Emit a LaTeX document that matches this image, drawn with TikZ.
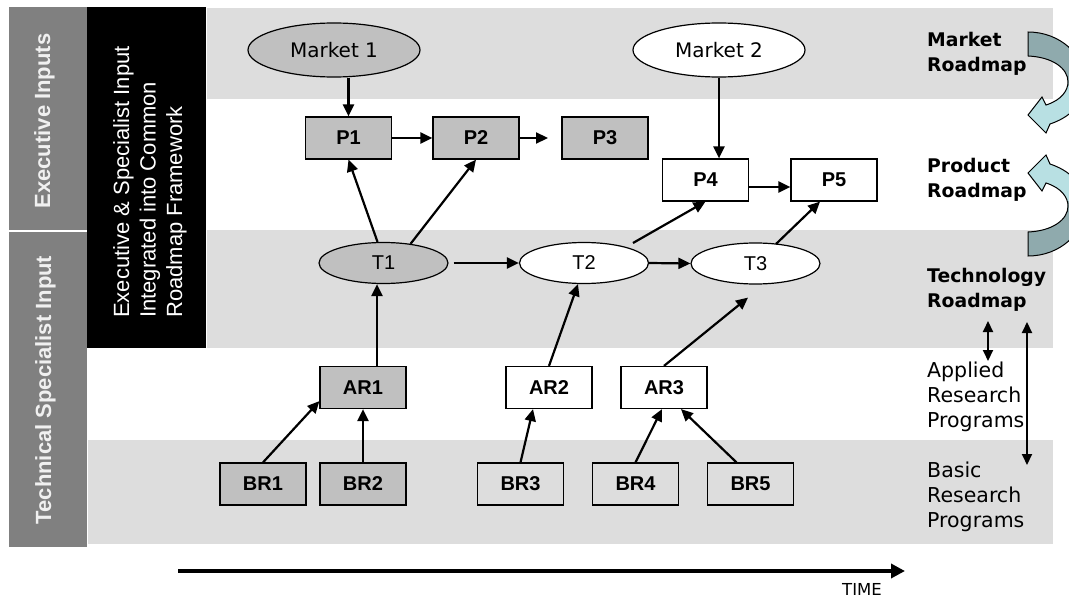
\documentclass[tikz,border=0pt]{standalone}
\usepackage{fontspec}
\setmainfont{Liberation Sans}
\newfontfamily\dvfont{DejaVu Sans}
\usetikzlibrary{arrows.meta,shapes.geometric,calc}
\definecolor{band}{HTML}{DDDDDD}
\definecolor{ngray}{HTML}{C0C0C0}
\definecolor{colgray}{HTML}{808080}
\definecolor{darkteal}{HTML}{8FAAAD}
\definecolor{lightteal}{HTML}{B8E0E3}
\definecolor{labtext}{HTML}{F0F0F0}
\newcommand\curvA[1]{\path[#1] (1028,32) .. controls (1060,32) and (1085,55) .. (1085,82) .. controls (1085,105) and (1068,118) .. (1050,124) -- (1046,133) -- (1028,115) -- (1042,97) -- (1046,105) .. controls (1062,100) and (1068,90) .. (1068,82) .. controls (1068,68) and (1052,57) .. (1028,56) -- cycle;}
\newcommand\curvB[1]{\path[#1] (1028,256) .. controls (1060,256) and (1085,233) .. (1085,206) .. controls (1085,183) and (1068,170) .. (1050,164) -- (1046,155) -- (1028,173) -- (1042,191) -- (1046,183) .. controls (1062,188) and (1068,198) .. (1068,206) .. controls (1068,220) and (1052,231) .. (1028,232) -- cycle;}
\begin{document}
\begin{tikzpicture}[x=1pt,y=-1pt,
  box/.style={draw, line width=1.2pt, rectangle, minimum width=86pt, minimum height=42pt, inner sep=0pt, font=\fontsize{20}{24}\selectfont\bfseries},
  tnode/.style={draw, line width=1.2pt, ellipse, minimum width=129pt, minimum height=41pt, inner sep=0pt, font=\fontsize{20}{24}\selectfont},
  mnode/.style={draw, line width=1.2pt, ellipse, minimum width=172pt, minimum height=54pt, inner sep=0pt, font=\dvfont\fontsize{20}{24}\selectfont},
  gfill/.style={fill=ngray},
  wfill/.style={fill=white},
  arr/.style={line width=2.2pt, -{Triangle[length=12pt,width=11pt]}},
  darr/.style={line width=2pt, {Triangle[length=11pt,width=10pt]}-{Triangle[length=11pt,width=10pt]}},
  rlab/.style={anchor=north west, align=left, inner sep=0pt, font=\dvfont\fontsize{20.5}{25}\selectfont},
  rlabb/.style={anchor=north west, align=left, inner sep=0pt, font=\dvfont\fontsize{18.8}{25}\selectfont\bfseries},
  sidelab/.style={rotate=90, anchor=base, text=labtext, font=\fontsize{22}{26}\selectfont\bfseries}
]
\useasboundingbox (0,0) rectangle (1069,599);
\fill[white] (0,0) rectangle (1069,599);
% bands
\fill[band] (207,8) rectangle (1053,99);
\fill[band] (207,230) rectangle (1053,348);
\fill[band] (88,440) rectangle (1053,544);
% left column
\fill[colgray] (9,7) rectangle (87,230);
\fill[colgray] (9,232) rectangle (87,547);
\fill[black] (87,7) rectangle (206,348);
\node[sidelab] (exlab) at (50,121) {Executive Inputs};
\node[sidelab] (tslab) at (51,390) {Technical Specialist Input};
\node[rotate=90, anchor=north west, align=left, inner sep=0pt, text=white, font=\fontsize{22}{26.5}\selectfont] (bbtext) at (113,318) {Executive \& Specialist Input\\Integrated into Common\\Roadmap Framework};

% curved block arrows
\begin{scope}
  \clip (0,0) rectangle (1069,599);
  \curvA{fill=lightteal}
  \begin{scope}
    \clip (1000,0) rectangle (1100,86);
    \curvA{fill=darkteal}
  \end{scope}
  \curvA{draw=black, line width=1pt}
  \curvB{fill=lightteal}
  \begin{scope}
    \clip (1000,202) rectangle (1100,300);
    \curvB{fill=darkteal}
  \end{scope}
  \curvB{draw=black, line width=1pt}
\end{scope}

% right labels
\node[rlabb] (lbM) at (927,32) {Market\\Roadmap};
\node[rlabb] (lbP) at (927,158) {Product\\Roadmap};
\node[rlabb] (lbT) at (927,268) {Technology\\Roadmap};
\node[rlab] (lbA) at (927,362) {Applied\\Research\\Programs};
\node[rlab] (lbB) at (927,462) {Basic\\Research\\Programs};
\coordinate (dA1) at (988,321);
\coordinate (dA2) at (988,361);
\coordinate (dB1) at (1027,322);
\coordinate (dB2) at (1027,465);
\draw[darr] (dA1) -- (dA2);
\draw[darr] (dB1) -- (dB2);

% nodes
\node[mnode, gfill] (M1) at (334,50) {Market 1};
\node[mnode, wfill] (M2) at (719,50) {Market 2};
\node[box, gfill] (P1) at (348.5,138) {P1};
\node[box, gfill] (P2) at (476,138) {P2};
\node[box, gfill] (P3) at (605,138) {P3};
\node[box, wfill] (P4) at (705.5,180) {P4};
\node[box, wfill] (P5) at (834,180) {P5};
\node[tnode, gfill] (T1) at (383.5,263) {T1};
\node[tnode, wfill] (T2) at (584,263) {T2};
\node[tnode, wfill] (T3) at (755.5,263.5) {T3};
\node[box, gfill] (AR1) at (363,387.5) {AR1};
\node[box, wfill] (AR2) at (549,387.5) {AR2};
\node[box, wfill] (AR3) at (664,387.5) {AR3};
\node[box, gfill] (BR1) at (263,484) {BR1};
\node[box, gfill] (BR2) at (363,484) {BR2};
\node[box] (BR3) at (520.5,484) {BR3};
\node[box] (BR4) at (635.5,484) {BR4};
\node[box] (BR5) at (750.5,484) {BR5};
\coordinate (p2end) at (548,138);

% connectors
\draw[arr] (P1.north |- M1.south) -- (P1.north);
\draw[arr] (P1.east) -- (P2.west);
\draw[arr] (P2.east) -- (p2end);
\draw[arr] (M2.south) -- (M2.south |- P4.north);
\draw[arr] ($(P4.east)+(0,7)$) -- ($(P5.west)+(0,7)$);
\draw[arr] ($(T1.north)+(-6,0)$) -- (P1.south);
\draw[arr] ($(T1.north)+(27,2)$) -- (P2.south);
\draw[arr, shorten <=5pt] (T1.east) -- (T2.west);
\draw[arr] (T2.east) -- (T3.west);
\draw[arr] ($(T2.center)+(49,-20)$) -- (P4.south);
\draw[arr] ($(T3.center)+(20.5,-19.5)$) -- ($(P5.south)+(-14,0)$);
\draw[arr] ($(AR1.north)+(14,0)$) -- ($(T1.south)+(-6.5,0)$);
\draw[arr] (AR2.north) -- ($(T2.south)+(-6,0)$);
\draw[arr] (AR3.north) -- ($(T3.south)+(-7.5,13)$);
\draw[arr] (BR1.north) -- ($(AR1.south west)+(0,-8)$);
\draw[arr] (BR2.north) -- (AR1.south);
\draw[arr] (BR3.north) -- ($(AR2.south)+(-16,0)$);
\draw[arr] (BR4.north) -- ($(AR3.south)+(-2,0)$);
\draw[arr] ($(BR5.north)+(-14,0)$) -- ($(AR3.south)+(17,0)$);

% time axis
\coordinate (t0) at (178,571);
\coordinate (t1) at (905,571);
\draw[line width=3.5pt, -{Triangle[length=14pt,width=14pt]}] (t0) -- (t1);
\node[font=\dvfont\fontsize{16.5}{19}\selectfont, inner sep=0pt, anchor=base] (time) at (862,595) {TIME};
\end{tikzpicture}
\end{document}
